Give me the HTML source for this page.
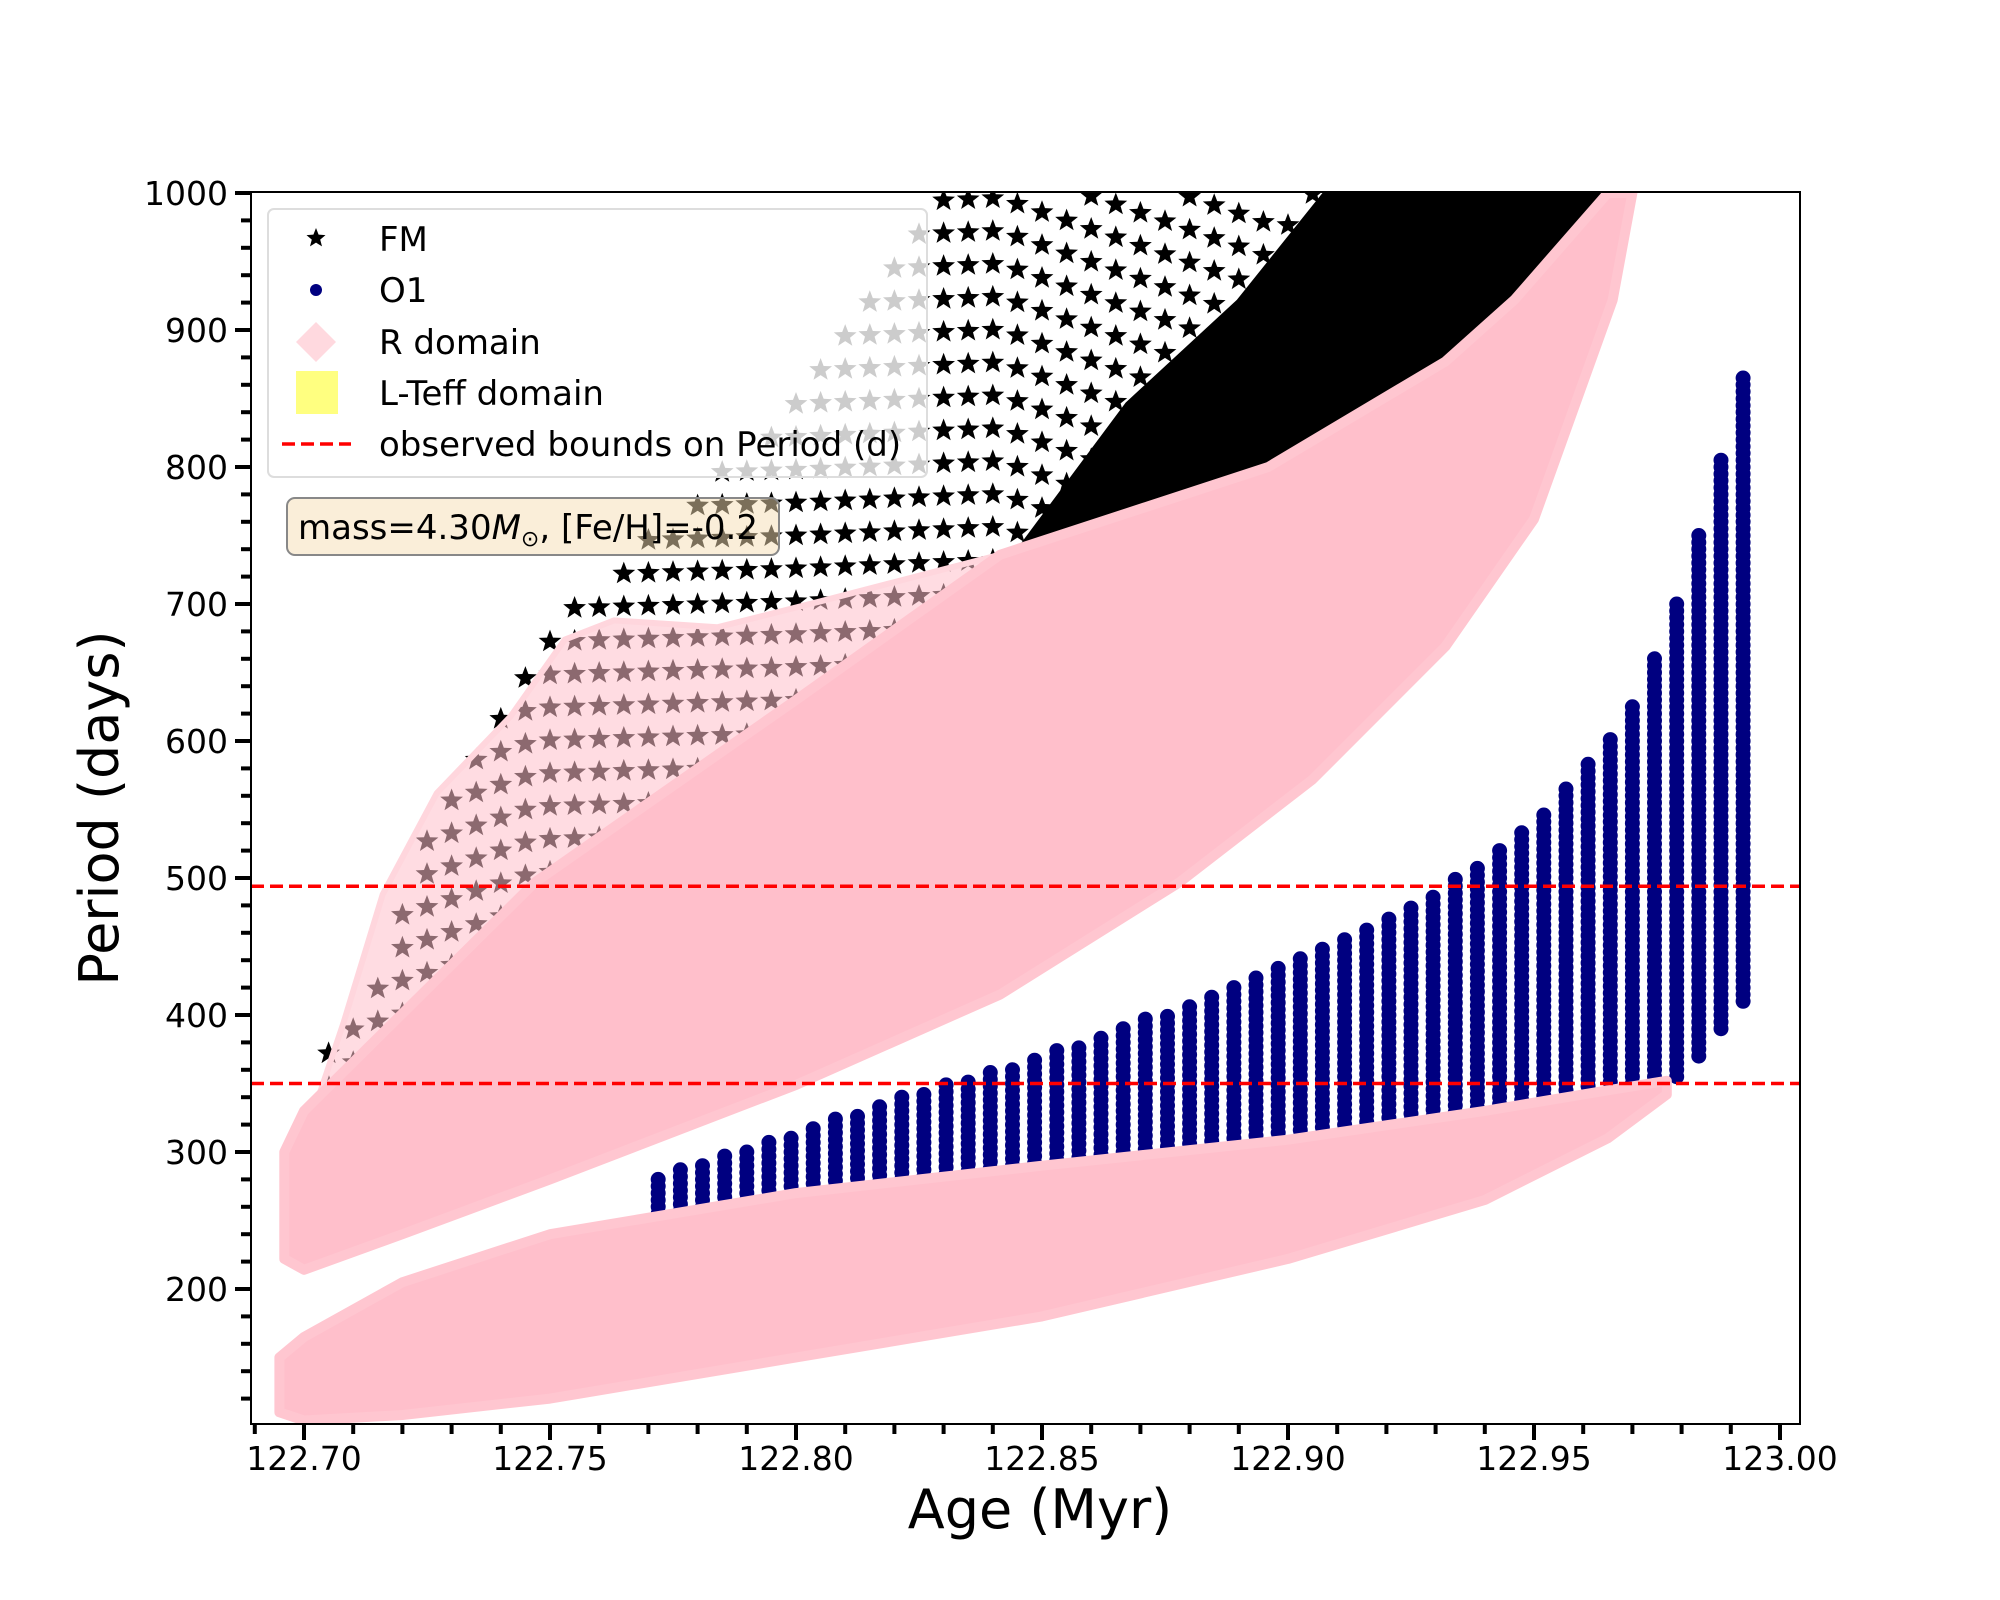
<!DOCTYPE html>
<html><head><meta charset="utf-8"><style>
html,body{margin:0;padding:0;background:#fff;}
svg{display:block;font-family:"DejaVu Sans","Liberation Sans",sans-serif;}
</style></head><body>
<svg id="chart" width="2000" height="1600" viewBox="0 0 2000 1600">
<defs><clipPath id="plotclip"><rect x="251" y="192" width="1549" height="1232"/></clipPath></defs>
<rect width="2000" height="1600" fill="#fff"/>
<g id="plot" clip-path="url(#plotclip)"></g>
<g id="axes"></g>
</svg>
<script>
// ---- data ----
const obsBounds = [494, 350];
const xTicks = [122.70,122.75,122.80,122.85,122.90,122.95,123.00];
const xTickLabels = ["122.70","122.75","122.80","122.85","122.90","122.95","123.00"];
const yTicks = [200,300,400,500,600,700,800,900,1000];
const yTickLabels = ["200","300","400","500","600","700","800","900","1000"];
// O1 columns
const o1Age = [122.772,122.7765,122.781,122.7855,122.790,122.7945,122.799,122.8035,122.808,122.8125,122.817,122.8215,122.826,122.8305,122.835,122.8395,122.844,122.8485,122.853,122.8575,122.862,122.8665,122.871,122.8755,122.880,122.8845,122.889,122.8935,122.898,122.9025,122.907,122.9115,122.916,122.9205,122.925,122.9295,122.934,122.9385,122.943,122.9475,122.952,122.9565,122.961,122.9655,122.970,122.9745,122.979,122.9835,122.988,122.9925];
const o1Hi = [280,287,293,299,304,309,314,319,325,330,335,340,345,350,355,360,364,369,374,379,385,391,397,403,409,415,421,428,435,442,449,456,464,472,481,490,499,509,520,533,548,565,583,605,628,660,700,750,805,865];
const o1Lo = [235,237,240,242,245,247,250,252,254,256,258,260,262,264,266,268,270,272,274,276,278,280,282,284,286,288,290,292,294,296,298,300,302,305,308,311,314,317,320,323,326,330,333,336,340,345,355,370,390,410];
// FM star columns
const fmAge = [122.705,122.71,122.715,122.72,122.725,122.73,122.735,122.74,122.745,122.75,122.755,122.76,122.765,122.77,122.775,122.78,122.785,122.79,122.795,122.80,122.805,122.81,122.815,122.82,122.825,122.83,122.835,122.84,122.845,122.85,122.855,122.86,122.865,122.87,122.875,122.88,122.885,122.89,122.895,122.90,122.905,122.91];
const fmHi = [380,400,440,490,530,570,600,630,660,680,700,715,735,755,770,785,800,820,840,860,880,905,930,960,990,1000,1000,1000,1000,1000,1000,1000,1000,1000,1000,1000,1000,1000,1000,1000,1000,1000];
// FM dense region boundary
const denseAge = [122.844,122.867,122.8896,122.907];
const denseTop = [736,847,922,1000];
// R domain upper band envelope
const upLoAge = [122.696,122.70,122.72,122.75,122.80,122.8415,122.878,122.905,122.932,122.95,122.966,122.97];
const upLo = [222,214,240,280,349,415,497,572,669,762,922,1000];
const upHiAge = [122.696,122.70,122.747,122.80,122.8415,122.896,122.932,122.946,122.965];
const upHi = [300,330,497,630,736,800,877,922,1000];
// R domain faded region (with FM stars)
const fadeAge = [122.702,122.708,122.716,122.727,122.742,122.753,122.763,122.784,122.805,122.82,122.8415];
const fadeTop = [330,394,488,562,618,674,688,683,702,716,736];
// R domain lower band envelope
const lowAge = [122.695,122.70,122.72,122.75,122.80,122.85,122.90,122.94,122.965,122.977];
const lowLo = [110,104,108,120,150,180,222,265,310,342];
const lowHi = [150,165,205,240,270,290,309,330,345,352];

// ---- scales ----
const X0=304, XPM=4920, Y0=193, YPU=1.37;
function sx(a){return X0+(a-122.70)*XPM;}
function sy(v){return Y0+(1000-v)*YPU;}
const NS="http://www.w3.org/2000/svg";
function mk(tag,attrs,parent){const e=document.createElementNS(NS,tag);for(const k in attrs)e.setAttribute(k,attrs[k]);parent.appendChild(e);return e;}
function interp(xs,ys,x){if(x<=xs[0])return ys[0];for(let i=1;i<xs.length;i++){if(x<=xs[i]){const t=(x-xs[i-1])/(xs[i]-xs[i-1]);return ys[i-1]+t*(ys[i]-ys[i-1]);}}return ys[ys.length-1];}
function starPath(cx,cy,r){let d="";for(let i=0;i<10;i++){const rr=i%2?r*0.42:r;const a=-Math.PI/2+i*Math.PI/5;d+=(i?"L":"M")+(cx+rr*Math.cos(a)).toFixed(1)+","+(cy+rr*Math.sin(a)).toFixed(1);}return d+"Z";}
const plot=document.getElementById('plot');
const axes=document.getElementById('axes');

// FM stars
const gFM=mk('g',{fill:'#000'},plot);


let sd="";
fmAge.forEach((a,i)=>{
  const lo=Math.max(300,interp(upHiAge,upHi,a)-60);
  const off=(i%2)*12;
  for(let v=lo+off; v<=fmHi[i]; v+=24){sd+=starPath(sx(a),sy(v),12);}
});
const fmp=mk('path',{d:sd},gFM);


// dense FM region, bounded below by the R-domain top
let dp="M"+denseAge.map((a,i)=>sx(a)+","+sy(denseTop[i])).join(" L")+" L"+sx(122.97)+","+sy(1000);
for(let i=upHiAge.length-1;i>=0;i--){ if(upHiAge[i]<denseAge[0]) break; dp+=" L"+sx(upHiAge[i])+","+(sy(upHi[i])+6); }
dp+=" L"+sx(denseAge[0])+","+(sy(interp(upHiAge,upHi,denseAge[0]))+6)+"Z";
const dense=mk('path',{d:dp,fill:'#000'},gFM);



// O1 dots
const gO1=mk('g',{fill:'#000080'},plot);


o1Age.forEach((a,i)=>{
  for(let v=o1Lo[i]; v<=o1Hi[i]; v+=5){
    const c=mk('circle',{cx:sx(a).toFixed(1),cy:sy(v).toFixed(1),r:7.5},gO1);
    
    
  }
});

// R domain
function bandPath(ageLo,lo,ageHi,hi){
  let d="M"+ageLo.map((a,i)=>sx(a).toFixed(1)+","+sy(lo[i]).toFixed(1)).join(" L");
  for(let i=ageHi.length-1;i>=0;i--) d+=" L"+sx(ageHi[i]).toFixed(1)+","+sy(hi[i]).toFixed(1);
  return d+"Z";
}
const gR=mk('g',{},plot);


const fade=mk('path',{d:bandPath(fadeAge,fadeTop,upHiAge.slice(0,5),upHi.slice(0,5)),fill:'#ffc0cb','fill-opacity':0.55,stroke:'#ffd6dd','stroke-width':6},gR);


const up=mk('path',{d:bandPath(upLoAge,upLo,upHiAge,upHi),fill:'#ffbfcb',stroke:'#ffc6d0','stroke-width':10,'stroke-linejoin':'round'},gR);


const low=mk('path',{d:bandPath(lowAge,lowLo,lowAge,lowHi),fill:'#ffbfcb',stroke:'#ffc6d0','stroke-width':10,'stroke-linejoin':'round'},gR);



// observed bounds
obsBounds.forEach((v,i)=>{
  const l=mk('line',{x1:251,x2:1800,y1:sy(v),y2:sy(v),stroke:'#ff0000','stroke-width':3.5,'stroke-dasharray':'13,6'},plot);
  
  
});

// frame
const fr=mk('rect',{x:251,y:192,width:1549,height:1232,fill:'none',stroke:'#000','stroke-width':2},axes);



// x ticks
for(let k=0;k<=31;k++){
  const a=122.69+k*0.01; const x=sx(a); if(x<251||x>1801)continue;
  const major=Math.abs((a*100)%5)<0.01||Math.abs((a*100)%5-5)<0.01;
  const t=mk('line',{x1:x,x2:x,y1:1424,y2:1424+(major?16:10),stroke:'#000','stroke-width':4},axes);
  
  
}
xTicks.forEach((a,i)=>{
  const t=mk('text',{x:sx(a),y:1470,'font-size':33,'text-anchor':'middle'},axes);
  t.textContent=xTickLabels[i];
  
  
});
// y ticks
for(let v=120; v<=1000; v+=20){
  const major=v%100===0;
  const t=mk('line',{x1:251-(major?16:10),x2:251,y1:sy(v),y2:sy(v),stroke:'#000','stroke-width':4},axes);
  
  
}
yTicks.forEach((v,i)=>{
  const t=mk('text',{x:228,y:sy(v)+12,'font-size':33,'text-anchor':'end'},axes);
  t.textContent=yTickLabels[i];
  
  
});
</script>
<svg width="2000" height="1600" style="position:absolute;left:0;top:0">
<g font-family="DejaVu Sans, Liberation Sans, sans-serif">
<text x="1040" y="1528" font-size="54" text-anchor="middle">Age (Myr)</text>
<text transform="translate(118,808) rotate(-90)" font-size="54" text-anchor="middle">Period (days)</text>
<g>
<rect x="268" y="209" width="659" height="268" rx="6" fill="#fff" fill-opacity="0.8" stroke="#ddd" stroke-width="2"/>
<path d="M316,228 L318.6,234.6 L325.5,235.1 L320.2,239.6 L322,246.4 L316,242.6 L310,246.4 L311.8,239.6 L306.5,235.1 L313.4,234.6Z" fill="#000"/>
<text x="379" y="251" font-size="34">FM</text>
<ellipse cx="316" cy="290" rx="6" ry="6" fill="#000080"/>
<text x="379" y="302" font-size="34">O1</text>
<path d="M316,322 L336,342 L316,362 L296,342Z" fill="#ffd9df"/>
<text x="379" y="354" font-size="34">R domain</text>
<rect x="296" y="371" width="42" height="43" fill="#ffff80"/>
<text x="379" y="405" font-size="34">L-Teff domain</text>
<line x1="282" x2="351" y1="444" y2="444" stroke="#ff0000" stroke-width="3.5" stroke-dasharray="13,6"/>
<text x="379" y="456" font-size="34">observed bounds on Period (d)</text>
</g>
<g>
<rect x="287" y="498" width="492" height="57" rx="8" fill="#f5deb3" fill-opacity="0.5" stroke="#888" stroke-width="2"/>
<text x="298" y="539" font-size="34">mass=4.30<tspan font-style="italic">M</tspan><tspan font-size="22" dy="7">⊙</tspan><tspan dy="-7">, [Fe/H]=-0.2</tspan></text>
</g>
</g>
</svg>
</body></html>
